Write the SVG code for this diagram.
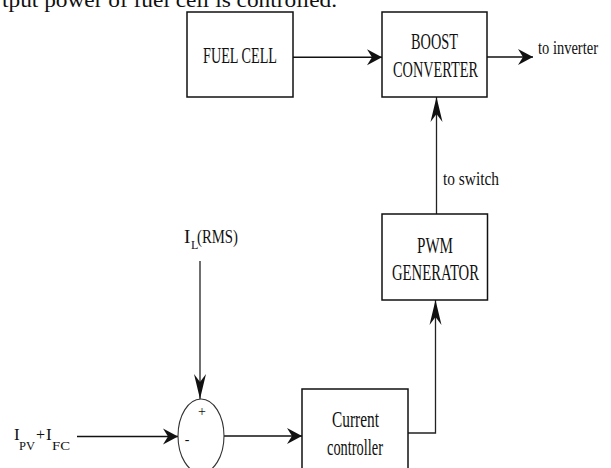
<svg xmlns="http://www.w3.org/2000/svg" width="611" height="468" viewBox="0 0 611 468">
<defs>
<style>
.box{fill:#fff;stroke:#111;stroke-width:1.5}
.t{font-family:"Liberation Serif","Times New Roman",serif;fill:#111}
.ln{fill:none;stroke:#111;stroke-width:1.6}
.lv{fill:none;stroke:#222;stroke-width:1.3}
</style>
<marker id="ah" viewBox="-16 -9 17 18" refX="0" refY="0" markerWidth="17" markerHeight="18" markerUnits="userSpaceOnUse" orient="auto">
<path d="M0,0 L-15,-8 L-10,0 L-15,8 Z" fill="#111"/>
</marker>
<marker id="av" viewBox="-26 -7 27 14" refX="0" refY="0" markerWidth="27" markerHeight="14" markerUnits="userSpaceOnUse" orient="auto">
<path d="M0,0 L-25,-6 L-17,0 L-25,6 Z" fill="#111"/>
</marker>
</defs>
<rect width="611" height="468" fill="#fff"/>
<text class="t" x="2" y="7" font-size="20" textLength="335" lengthAdjust="spacingAndGlyphs">tput power of fuel cell is controlled.</text>

<g id="connectors">
<line class="ln" x1="293" y1="57.3" x2="382" y2="57.3" marker-end="url(#ah)"/>
<line class="ln" x1="487" y1="57" x2="533" y2="57" marker-end="url(#ah)"/>
<line class="lv" x1="436.5" y1="214" x2="436.5" y2="97" marker-end="url(#av)"/>
<polyline class="lv" points="408,433 435.5,433 435.5,300" marker-end="url(#av)"/>
<line class="lv" x1="200" y1="261" x2="200" y2="399" marker-end="url(#av)"/>
<line class="ln" x1="77" y1="436.5" x2="178" y2="436.5" marker-end="url(#ah)"/>
<line class="ln" x1="224" y1="436" x2="302" y2="436" marker-end="url(#ah)"/>
</g>

<g id="fuel-cell">
<rect class="box" x="187" y="12" width="106" height="85"/>
<text class="t" x="203" y="62.7" font-size="23" textLength="74" lengthAdjust="spacingAndGlyphs">FUEL CELL</text>
</g>

<g id="boost-converter">
<rect class="box" x="382" y="12" width="105" height="85"/>
<text class="t" x="411" y="49" font-size="23" textLength="47" lengthAdjust="spacingAndGlyphs">BOOST</text>
<text class="t" x="393" y="77" font-size="23" textLength="85" lengthAdjust="spacingAndGlyphs">CONVERTER</text>
</g>

<g id="to-inverter">
<text class="t" x="538" y="54" font-size="18" textLength="60" lengthAdjust="spacingAndGlyphs">to inverter</text>
</g>

<g id="to-switch">
<text class="t" x="443" y="185" font-size="18" textLength="56" lengthAdjust="spacingAndGlyphs">to switch</text>
</g>

<g id="pwm-generator">
<rect class="box" x="382" y="214" width="105.5" height="86"/>
<text class="t" x="417" y="253" font-size="23" textLength="36" lengthAdjust="spacingAndGlyphs">PWM</text>
<text class="t" x="392" y="280" font-size="23" textLength="87" lengthAdjust="spacingAndGlyphs">GENERATOR</text>
</g>

<g id="current-controller">
<rect class="box" x="302" y="389" width="106" height="90"/>
<text class="t" x="332" y="427" font-size="23" textLength="47" lengthAdjust="spacingAndGlyphs">Current</text>
<text class="t" x="327" y="455" font-size="23" textLength="56" lengthAdjust="spacingAndGlyphs">controller</text>
</g>

<g id="summing-junction">
<ellipse cx="201" cy="436" rx="23" ry="37" fill="none" stroke="#333" stroke-width="1.1"/>
<text class="t" x="202" y="416" font-size="14" text-anchor="middle">+</text>
<text class="t" x="187" y="444" font-size="14" text-anchor="middle">-</text>
</g>

<g id="il-rms">
<text class="t" x="184" y="243" font-size="19">I</text>
<text class="t" x="191" y="249" font-size="12">L</text>
<text class="t" x="197" y="243" font-size="19" textLength="41" lengthAdjust="spacingAndGlyphs">(RMS)</text>
</g>

<g id="ipv-ifc">
<text class="t" x="14" y="440" font-size="17">I</text>
<text class="t" x="19" y="450" font-size="12" textLength="16" lengthAdjust="spacingAndGlyphs">PV</text>
<text class="t" x="36" y="440" font-size="16">+</text>
<text class="t" x="46" y="440" font-size="17">I</text>
<text class="t" x="52" y="450" font-size="12" textLength="18" lengthAdjust="spacingAndGlyphs">FC</text>
</g>
</svg>
